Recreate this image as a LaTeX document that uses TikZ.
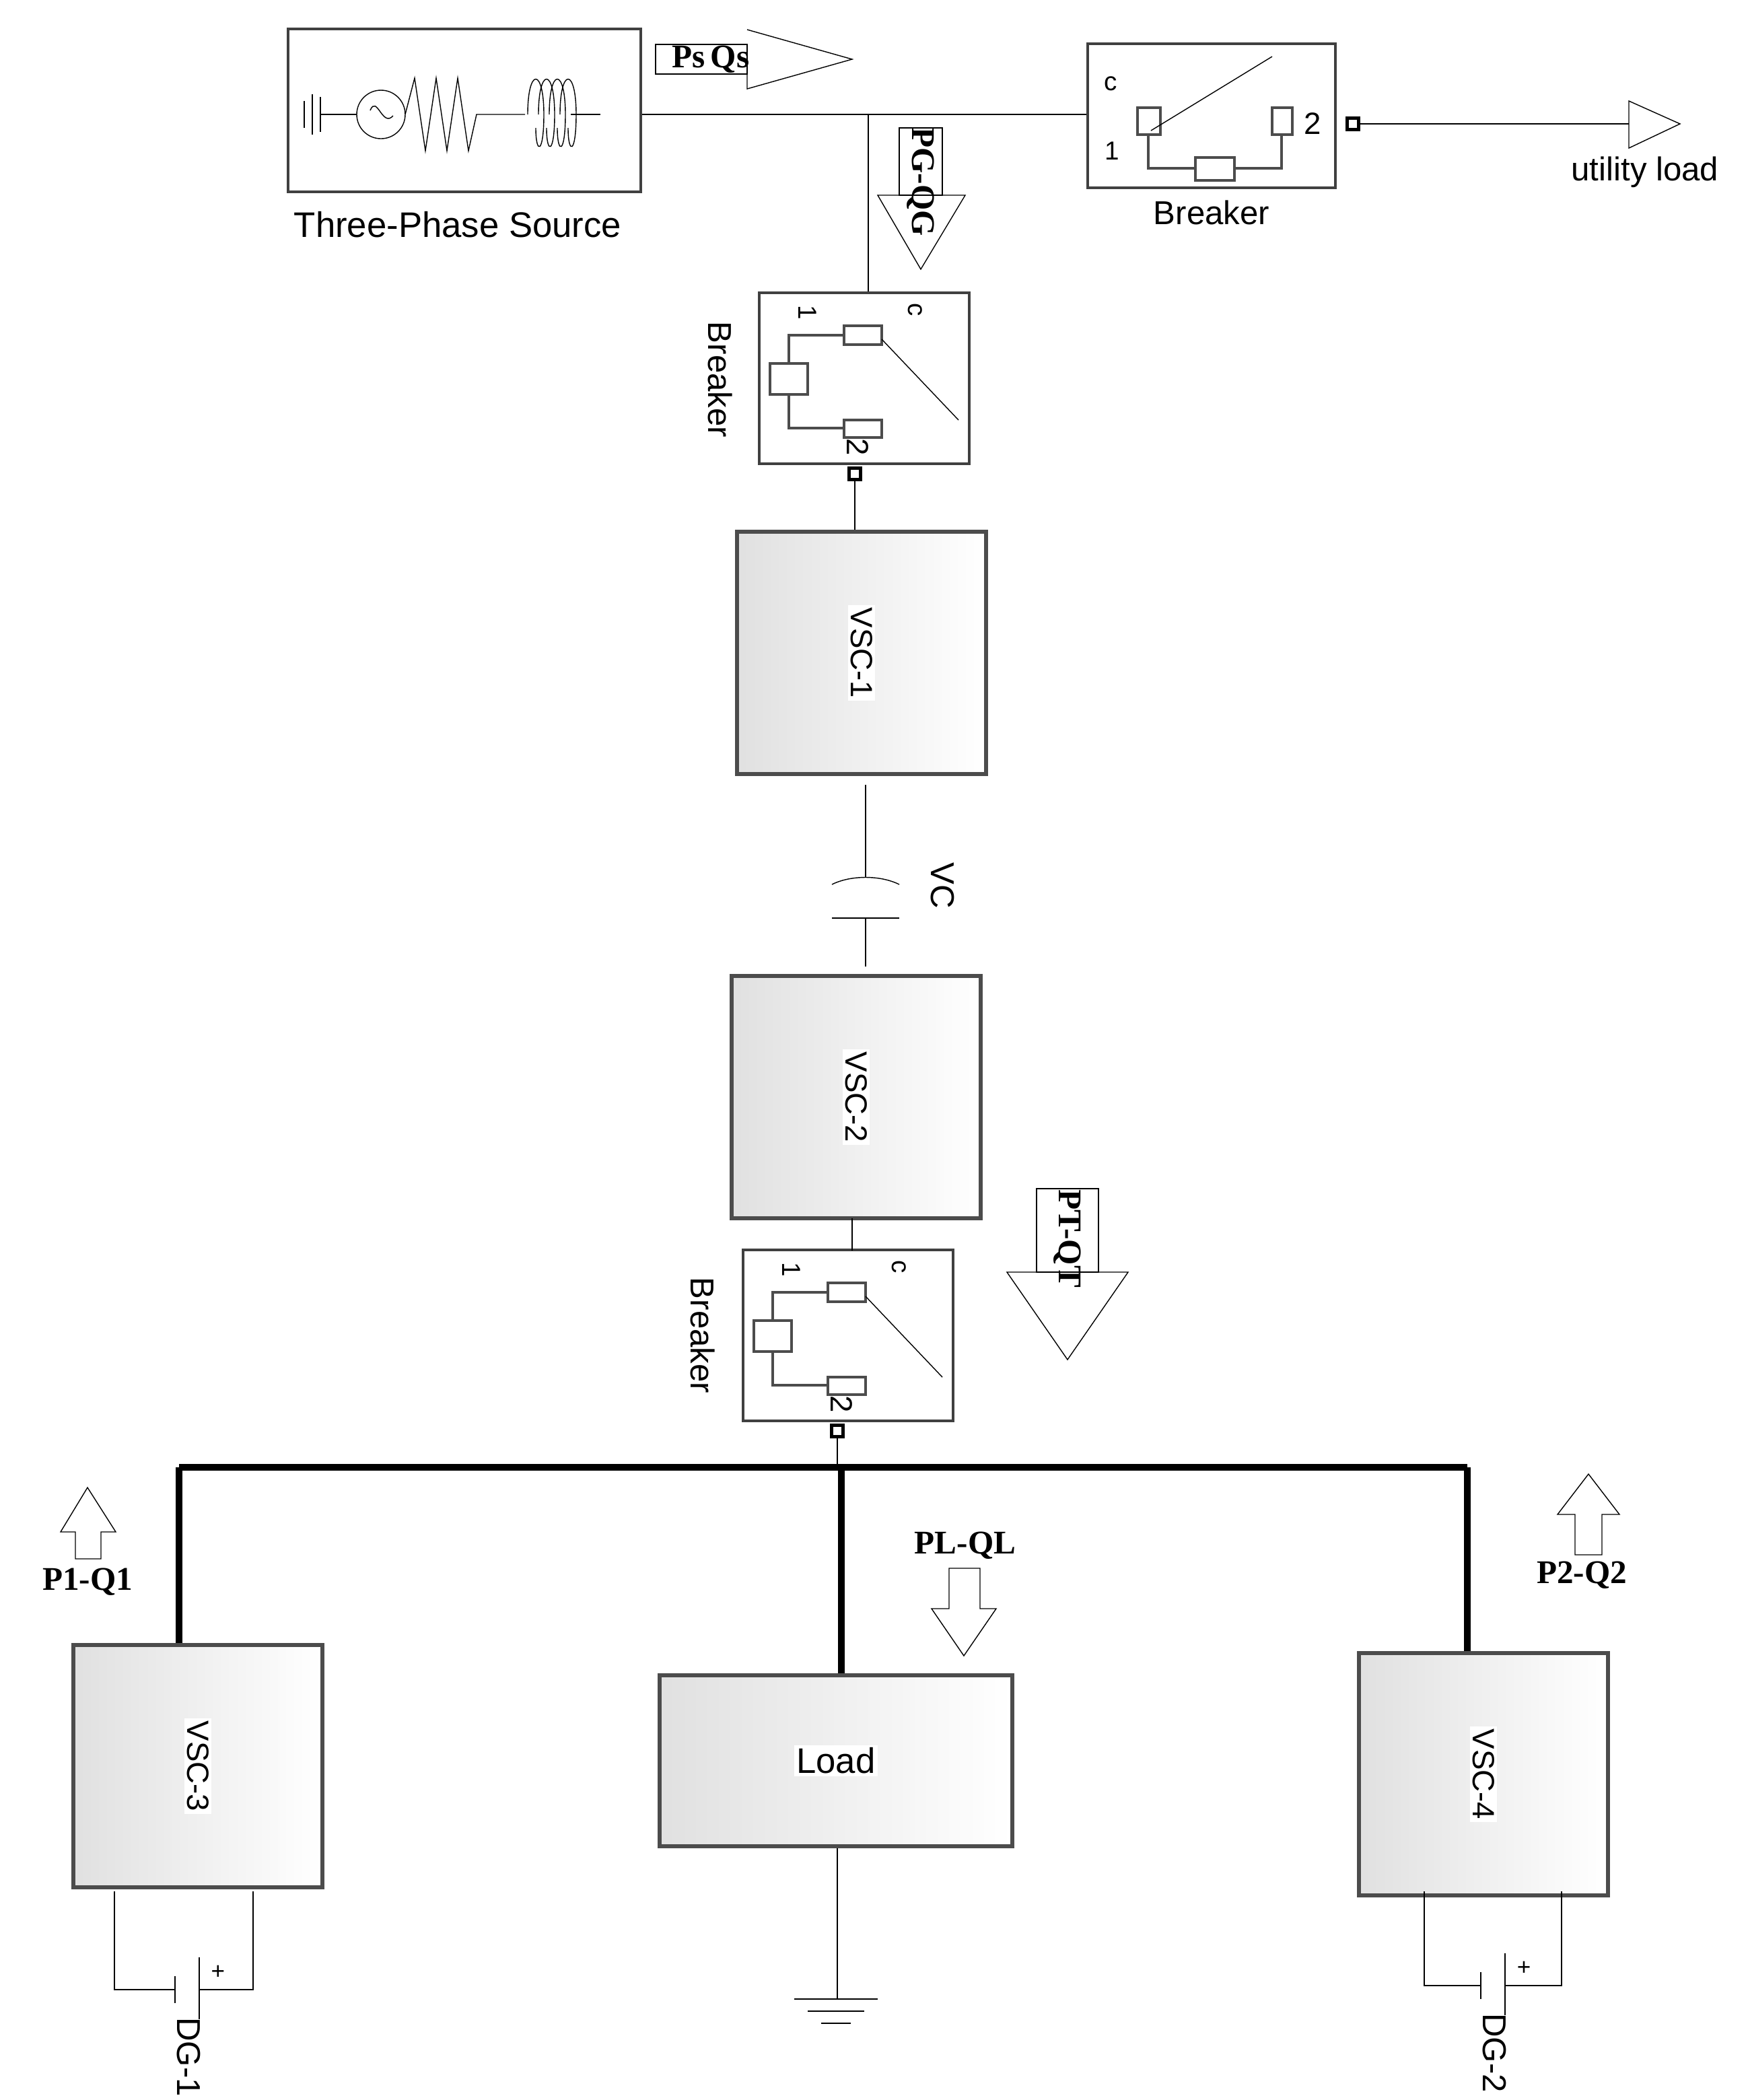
\documentclass[tikz,border=0pt]{standalone}
\usepackage{fontspec}
\setmainfont{Liberation Sans}
\newfontfamily\lblfont{Liberation Serif}
\usetikzlibrary{shapes.arrows}
\begin{document}
\begin{tikzpicture}
[x=0.02cm, y=-0.02cm,
 blk/.style={draw=black!75, line width=1.2pt, minimum width=#1},
 vsc/.style={draw=black!70, line width=1.5pt, left color=black!12, right color=white, minimum width=3.7cm, minimum height=3.6cm},
 lbl/.style={fill=white, inner sep=1pt, rotate=-90, font=\fontsize{13}{13}\selectfont},
 flow/.style={font=\lblfont\bfseries\fontsize{14}{14}\selectfont},
 bus/.style={line width=3pt},
 port/.style={draw, fill=white, line width=1.5pt, minimum size=5pt, inner sep=0pt}]
\useasboundingbox (0,0) rectangle (1298.5,1560);

% source and upper bus
\node[blk=5.24cm, minimum height=2.42cm] (src) at (345,82) {};
\node[font=\fontsize{15}{15}\selectfont] (srctxt) at (340,167) {Three-Phase Source};
\draw (226,75) -- (226,95) (232,70) -- (232,100) (238,72) -- (238,98) (238,85) -- (265,85);
\draw (283,85) circle (18);
\draw (275,82) .. controls (280,70) and (284,95) .. (292,86);
\draw (301,85) -- (308,58) -- (316,112) -- (324,58) -- (332,112) -- (340,58) -- (348,112) -- (354,85) -- (390,85);
\foreach \k in {0,1,2,3}
  \draw (392+\k*8,85) .. controls (392+\k*8,50) and (404+\k*8,50) .. (404+\k*8,85) .. controls (404+\k*8,115) and (398+\k*8,115) .. (398+\k*8,95);
\draw (424,85) -- (446,85);

\node[blk=3.68cm, minimum height=2.14cm] (brk0) at (900,86) {};
\node[font=\fontsize{14}{14}\selectfont] (brk0txt) at (900,158) {Breaker};
\node[font=\fontsize{11}{11}\selectfont] at (825,62) {c};
\node[font=\fontsize{11}{11}\selectfont] at (826,112) {1};
\node[font=\fontsize{13}{13}\selectfont] at (975,92) {2};
\draw[black!70, line width=1pt] (845,80) rectangle (862,100) (945,80) rectangle (960,100) (888,117) rectangle (917,134)
  (853,100) -- (853,125) -- (888,125) (917,125) -- (952,125) -- (952,100);
\draw (855,97) -- (945,42);
\node[port] (p0) at (1005,92) {};
\coordinate (ul) at (1210,92);
\draw (p0) -- (ul);
\draw (1210,75) -- (1248,92) -- (1210,110) -- cycle;
\node[font=\fontsize{14}{14}\selectfont] (ultxt) at (1222,128) {utility load};

\coordinate (tee) at (645,85);
\draw (src.east |- tee) -- (brk0.west |- tee);

\draw (487,33) rectangle (555,55);
\draw (555,22) -- (633,44) -- (555,66) -- (555,55);
\node[flow] (psqs) at (528,44) {Ps\,Qs};

\draw (668,95) rectangle (700,145);
\draw (700,145) -- (717,145) -- (684,200) -- (652,145) -- (668,145);
\node[flow, rotate=-90] (pgqg) at (684,135) {PG-QG};

% breaker 1 and converters
\node[blk=3.12cm, minimum height=2.54cm] (brk1) at (642,281) {};
\draw (tee) -- (tee |- brk1.north);
\node[rotate=-90, font=\fontsize{14}{14}\selectfont] at (535,282) {Breaker};
\foreach \dx/\dy in {0/0, -12/711} {
  \begin{scope}[shift={(\dx,\dy)}]
  \node[rotate=-90, font=\fontsize{11}{11}\selectfont] at (600,232) {1};
  \node[rotate=-90, font=\fontsize{11}{11}\selectfont] at (680,230) {c};
  \node[rotate=-90, font=\fontsize{13}{13}\selectfont] at (637,332) {2};
  \draw[black!70, line width=1pt] (627,242) rectangle (655,256) (572,270) rectangle (600,293) (627,312) rectangle (655,325)
    (627,249) -- (586,249) -- (586,270) (586,293) -- (586,318) -- (627,318);
  \draw (655,252) -- (712,312);
  \end{scope}}
\node[port] (p1) at (635,352) {};
\node[vsc] (vsc1) at (640,485) {};
\node[lbl] at (vsc1) {VSC-1};
\draw (p1) -- (p1 |- vsc1.north);

\coordinate (c1) at (643,652);
\coordinate (c2) at (643,682);
\draw (643,583) -- (c1) (c2) -- (643,718);
\draw (618,657) .. controls (632,650) and (654,650) .. (668,657);
\draw (618,682) -- (668,682);
\node[rotate=-90, font=\fontsize{14}{14}\selectfont] (vc) at (700,658) {VC};

\node[vsc] (vsc2) at (636,815) {};
\node[lbl] at (vsc2) {VSC-2};
\node[blk=3.12cm, minimum height=2.54cm] (brk2) at (630,992) {};
\draw (633,905) -- (633,929);
\node[rotate=-90, font=\fontsize{14}{14}\selectfont] at (522,992) {Breaker};
\node[port] (p2) at (622,1063) {};

\draw (770,883) rectangle (816,945);
\draw (816,945) -- (838,945) -- (793,1010) -- (748,945) -- (770,945);
\node[flow, rotate=-90] (ptqt) at (793,920) {PT-QT};

% lower bus
\coordinate (b1) at (133,1090);
\coordinate (b2) at (625,1090);
\coordinate (b3) at (1090,1090);
\draw[bus] (b1) -- (b3);
\draw (p2) -- (p2 |- b2);

\node[vsc] (vsc3) at (147,1312) {};
\node[lbl] at (vsc3) {VSC-3};
\node[draw=black!70, line width=1.5pt, left color=black!12, right color=white, minimum width=5.24cm, minimum height=2.54cm] (load) at (621,1308) {};
\node[fill=white, inner sep=1pt, font=\fontsize{15}{15}\selectfont] at (load) {Load};
\node[vsc] (vsc4) at (1102,1318) {};
\node[lbl] at (vsc4) {VSC-4};
\draw[bus] (b1) -- (b1 |- vsc3.north);
\draw[bus] (b2) -- (b2 |- load.north);
\draw[bus] (b3) -- (b3 |- vsc4.north);

\draw (56,1158) -- (56,1138) -- (45,1138) -- (65,1105) -- (86,1138) -- (75,1138) -- (75,1158) -- cycle;
\node[flow] (pq1) at (65,1175) {P1-Q1};
\draw (1170,1155) -- (1170,1125) -- (1157,1125) -- (1180,1095) -- (1203,1125) -- (1190,1125) -- (1190,1155) -- cycle;
\node[flow] (pq2) at (1175,1170) {P2-Q2};
\node[flow] (pql) at (717,1148) {PL-QL};
\draw (705,1165) -- (728,1165) -- (728,1195) -- (740,1195) -- (716,1230) -- (692,1195) -- (705,1195) -- cycle;

% load ground
\coordinate (gnd) at (622,1485);
\draw (load.south -| gnd) -- (gnd);
\draw (590,1485) -- (652,1485) (600,1494) -- (642,1494) (610,1503) -- (632,1503);

% DC sources
\foreach \xa/\xb/\xs/\yb/\nm in {85/188/130/1478/DG-1, 1058/1160/1100/1475/DG-2} {
  \draw (\xa,1405) -- (\xa,\yb) -- (\xs,\yb) (\xs,\yb-10) -- (\xs,\yb+10);
  \draw (\xs+18,\yb-24) -- (\xs+18,\yb+22) (\xs+18,\yb) -- (\xb,\yb) -- (\xb,1405);
  \node[font=\fontsize{10}{10}\selectfont] at (\xs+32,\yb-13) {+};
  \node[rotate=-90, font=\fontsize{14}{14}\selectfont] at (\xs+10,\yb+50) {\nm};
}
\end{tikzpicture}
\end{document}
